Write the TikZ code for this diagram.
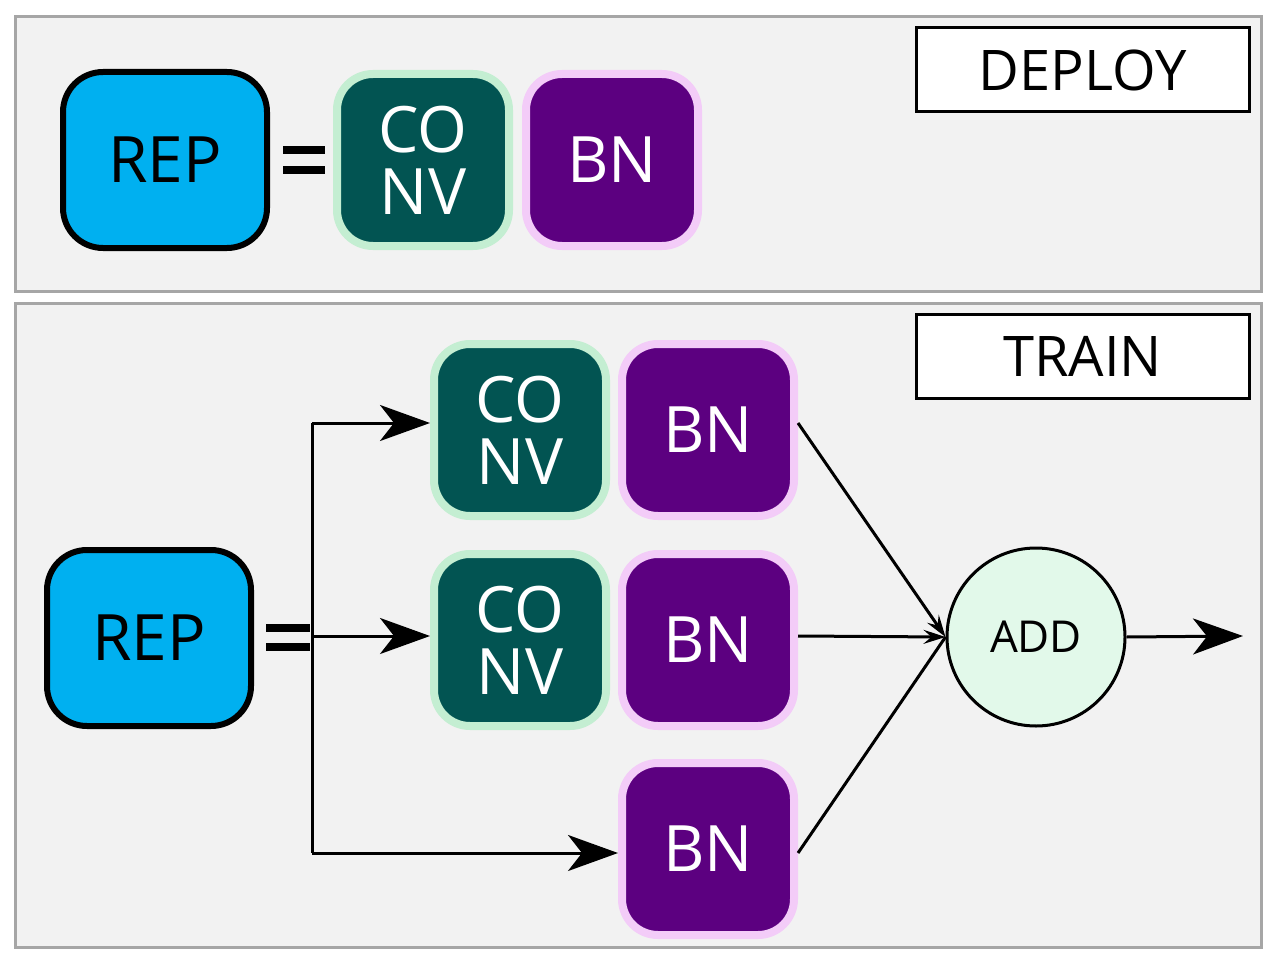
\documentclass[tikz,border=0pt]{standalone}
\usepackage{fontspec}
\setmainfont{Open Sans}
\usetikzlibrary{arrows.meta}
\definecolor{panel}{HTML}{F2F2F2}
\definecolor{panelb}{HTML}{A6A6A6}
\definecolor{repc}{HTML}{00B0F0}
\definecolor{convc}{HTML}{025452}
\definecolor{convb}{HTML}{C4EED2}
\definecolor{bnc}{HTML}{5C0080}
\definecolor{bnb}{HTML}{F3CCF8}
\definecolor{addc}{HTML}{E2F9EA}
\begin{document}
\begin{tikzpicture}[x=1pt,y=-1pt,
 panel/.style={fill=panel,draw=panelb,line width=3pt},
 tag/.style={draw=black,fill=white,line width=3pt,minimum width=333pt,minimum height=84pt,font=\fontsize{56}{60}\selectfont},
 rep/.style={draw=black,fill=repc,line width=6pt,rounded corners=40pt,minimum width=204pt,minimum height=176pt,font=\fontsize{64}{70}\selectfont},
 blk/.style={rounded corners=36pt,line width=8pt,minimum width=172pt,minimum height=172pt,text=white,align=center,font=\fontsize{64}{62}\selectfont},
 conv/.style={blk,fill=convc,draw=convb},
 bn/.style={blk,fill=bnc,draw=bnb},
 eqbar/.style={fill=black},
 big/.style={line width=3pt,-{Stealth[length=50pt,width=36pt,inset=14pt]}},
 thin/.style={line width=3pt,-{Stealth[length=22pt,width=14pt,inset=8pt]}}]
\useasboundingbox (0,0) rectangle (1277,963);
\draw[panel] (15,17) rectangle (1261,291);
\draw[panel] (15,303) rectangle (1261,947);
\node[tag] (dep) at (1082.5,70) {DEPLOY};
\node[tag] (trn) at (1082.5,356.5) {TRAIN};
% top
\node[rep] (rep1) at (165,160) {REP};
\fill[eqbar] (283,146) rectangle (325,154);
\fill[eqbar] (283,166) rectangle (325,174);
\node[conv] (c0) at (423,160) {CO\\NV};
\node[bn] (b0) at (612,160) {BN};
% bottom
\node[rep] (rep2) at (149,638) {REP};
\fill[eqbar] (266,624) rectangle (310,632);
\fill[eqbar] (266,643) rectangle (310,651);
\node[conv] (c1) at (520,430) {CO\\NV};
\node[bn] (b1) at (708,430) {BN};
\node[conv] (c2) at (520,640) {CO\\NV};
\node[bn] (b2) at (708,640) {BN};
\node[bn] (b3) at (708,849) {BN};
\node[circle,draw=black,fill=addc,line width=3pt,minimum size=178pt,font=\fontsize{44}{48}\selectfont] (add) at (1036,637) {ADD};
\coordinate (t) at (312,423);
\coordinate (m) at (312,636);
\coordinate (bt) at (312,853);
\coordinate (out) at (1243,636);
\draw[line width=3pt] (t) -- (bt);
\draw[big] (t) -- (c1.west|-t);
\draw[big] (m) -- (c2.west|-m);
\draw[big] (bt) -- (b3.west|-bt);
\draw[thin] (b1.east|-t) -- (add.west);
\draw[thin] (b2.east|-m) -- (add.west);
\draw[line width=3pt] (b3.east|-bt) -- (add.west);
\draw[big] (add.east) -- (out);
\end{tikzpicture}
\end{document}
